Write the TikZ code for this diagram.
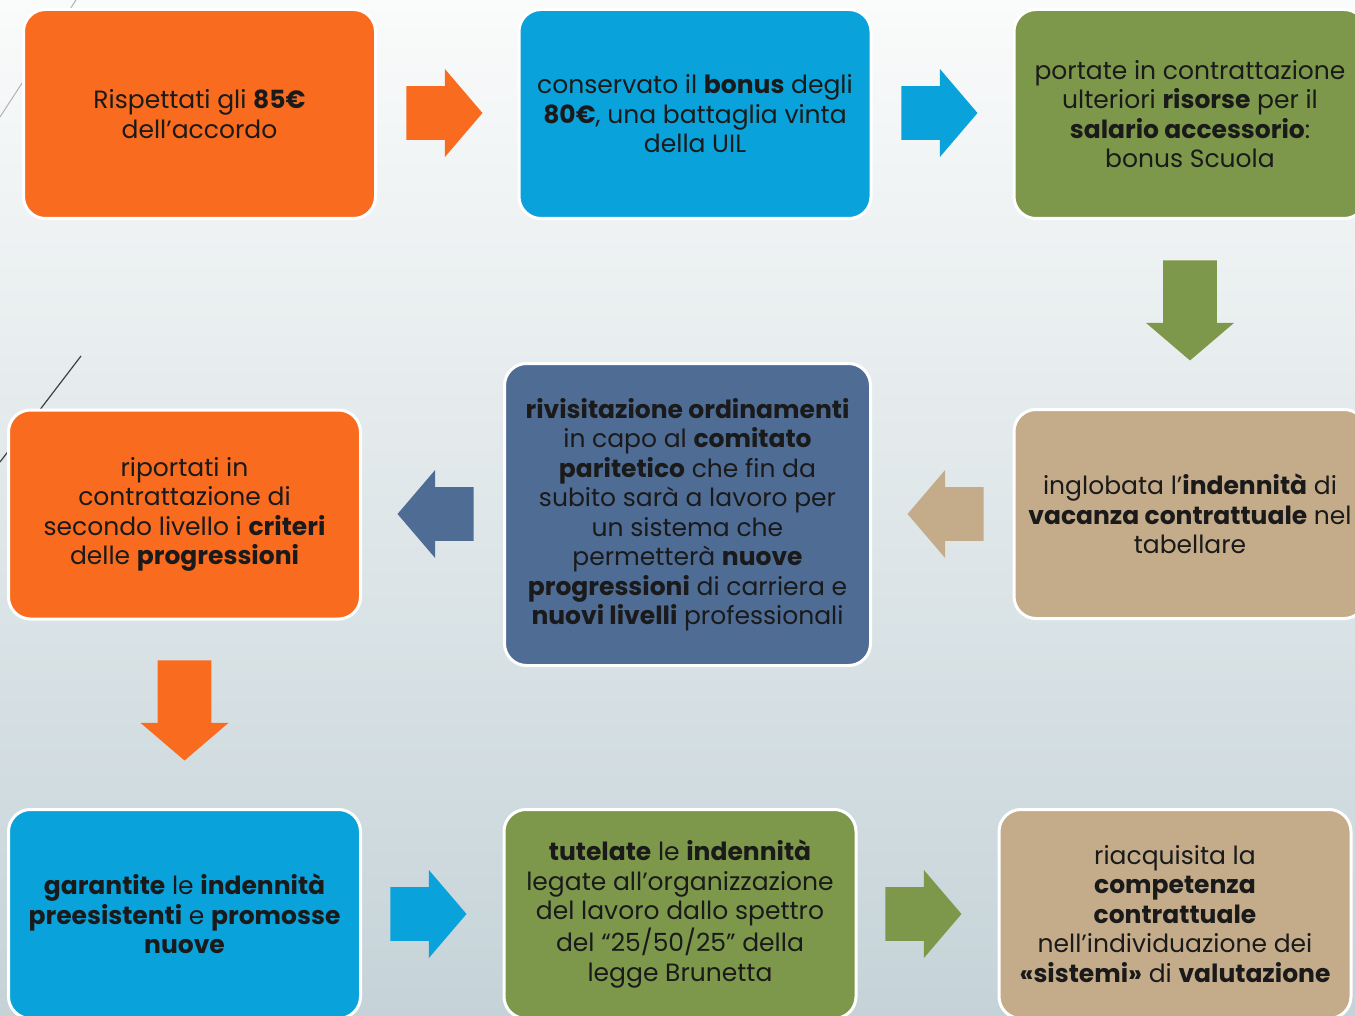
\documentclass[tikz,border=0pt]{standalone}
\usepackage{fontspec}
\setmainfont{Poppins}
\usetikzlibrary{shapes.arrows}

\definecolor{uilorange}{HTML}{F96B1E}
\definecolor{uilblue}{HTML}{0AA2DA}
\definecolor{uilgreen}{HTML}{7D984A}
\definecolor{uilslate}{HTML}{4F6C94}
\definecolor{uiltan}{HTML}{C4AC8A}
\definecolor{ink}{HTML}{1A1A1A}
\definecolor{bgtop}{HTML}{FAFBFB}
\definecolor{bgbottom}{HTML}{C5D3D8}

\begin{document}
\begin{tikzpicture}[x=0.5pt,y=-0.5pt]
 \tikzset{box node/.style={rectangle, draw=white, line width=1.5pt,
 		rounded corners=11pt, align=center, text=ink,
 		minimum width=176pt, minimum height=104.5pt,
 		font=\fontsize{12.5}{14.75}\selectfont}, }
 \tikzset{big node/.style={box node, minimum width=183pt,
 		minimum height=151pt}, }
 \tikzset{freccia/.style={single arrow, draw=none, anchor=tip,
 		inner xsep=0pt, inner ysep=13.25pt, minimum width=43.5pt,
 		single arrow head extend=8.5pt, single arrow tip angle=99,
 		minimum height=38pt}, }
 \tikzset{giu/.style={freccia, shape border rotate=270,
 		inner xsep=13.25pt, inner ysep=0pt, minimum height=50pt}, }
 \tikzset{sinistra/.style={freccia, shape border rotate=180}, }
 \useasboundingbox (0,0) rectangle (1355,1016);
 \clip (0,0) rectangle (1355,1016);
 \shade[top color=bgtop, bottom color=bgbottom] (0,0) rectangle (1355,1016);
 \draw[black!30, line width=0.5pt] (76,0) -- (0,117);
 \draw[black!75, line width=0.6pt] (81,356) -- (0,462);

 % riga in alto
 \node[box node, fill=uilorange] (b1) at (199.5,114)
 	{Rispettati gli \textbf{85€}\\dell’accordo};
 \node[box node, fill=uilblue] (b2) at (695,114)
 	{conservato il \textbf{bonus} degli\\\textbf{80€}, una battaglia vinta\\della UIL};
 \node[box node, fill=uilgreen] (b3) at (1190,114)
 	{portate in contrattazione\\ulteriori \textbf{risorse} per il\\\textbf{salario accessorio}:\\bonus Scuola};

 % riga centrale
 \node[box node, fill=uiltan] (b6) at (1190,514)
 	{inglobata l’\textbf{indennità} di\\\textbf{vacanza contrattuale} nel\\tabellare};
 \node[big node, fill=uilslate] (b5) at (687.5,514.5)
 	{\textbf{rivisitazione ordinamenti}\\in capo al \textbf{comitato}\\\textbf{paritetico} che fin da\\subito sarà a lavoro per\\un sistema che\\permetterà \textbf{nuove}\\\textbf{progressioni} di carriera e\\\textbf{nuovi livelli} professionali};
 \node[box node, fill=uilorange] (b4) at (184.5,514.5)
 	{riportati in\\contrattazione di\\secondo livello i \textbf{criteri}\\delle \textbf{progressioni}};

 % riga in basso
 \node[box node, fill=uilblue] (b7) at (184.5,914)
 	{\textbf{garantite} le \textbf{indennità}\\\textbf{preesistenti} e \textbf{promosse}\\\textbf{nuove}};
 \node[box node, fill=uilgreen] (b8) at (680,914)
 	{\textbf{tutelate} le \textbf{indennità}\\legate all’organizzazione\\del lavoro dallo spettro\\del “25/50/25” della\\legge Brunetta};
 \node[box node, fill=uiltan] (b9) at (1175,914)
 	{riacquisita la\\\textbf{competenza}\\\textbf{contrattuale}\\nell’individuazione dei\\\textbf{«sistemi»} di \textbf{valutazione}};

 % frecce
 \node[freccia, fill=uilorange] (f12) at (483,113) {};
 \node[freccia, fill=uilblue] (f23) at (978,113) {};
 \node[giu, fill=uilgreen] (f36) at (1190,361) {};
 \node[sinistra, fill=uiltan] (f65) at (907,514) {};
 \node[sinistra, fill=uilslate] (f54) at (397,514) {};
 \node[giu, fill=uilorange] (f47) at (184.5,761) {};
 \node[freccia, fill=uilblue] (f78) at (467,914) {};
 \node[freccia, fill=uilgreen] (f89) at (962,914) {};
\end{tikzpicture}
\end{document}
